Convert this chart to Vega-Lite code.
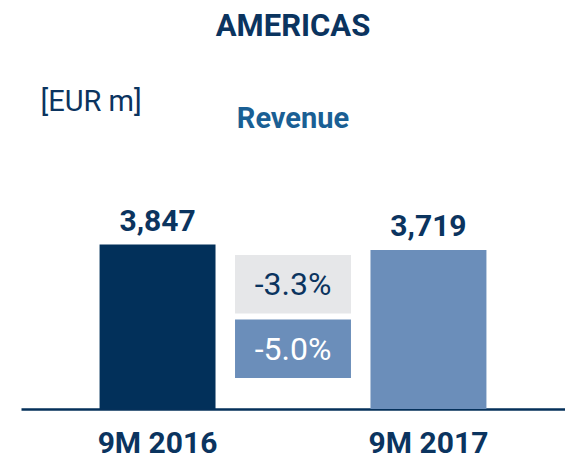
{
  "$schema": "https://vega.github.io/schema/vega-lite/v6.json",
  "autosize": {"type": "none"},
  "width": 544,
  "height": 171,
  "padding": {"left": 21, "top": 238, "right": 0, "bottom": 50},
  "background": "white",
  "config": {
    "font": "Roboto",
    "view": {"stroke": null}
  },
  "title": {
    "text": "AMERICAS",
    "subtitle": "Revenue",
    "anchor": "middle",
    "font": "Roboto",
    "fontSize": 31,
    "fontWeight": "bold",
    "color": "#0b345f",
    "subtitleFont": "Roboto",
    "subtitleFontSize": 29,
    "subtitleFontWeight": "bold",
    "subtitleColor": "#1a5f94",
    "subtitlePadding": 62,
    "offset": -48
  },
  "layer": [
    {
      "data": {
        "values": [
          {"period": "9M 2016", "revenue": 3847},
          {"period": "9M 2017", "revenue": 3719}
        ]
      },
      "encoding": {
        "x": {
          "field": "period",
          "type": "nominal",
          "scale": {"domain": ["9M 2016", "Δ", "9M 2017"], "paddingInner": 0.144, "paddingOuter": 0.58, "align": 0.5},
          "axis": {
            "title": null,
            "labelExpr": "datum.value == 'Δ' ? '' : datum.value",
            "labelAngle": 0,
            "labelFont": "Roboto",
            "labelFontSize": 30,
            "labelFontWeight": "bold",
            "labelColor": "#0b345f",
            "labelBaseline": "alphabetic",
            "labelPadding": 43,
            "ticks": false,
            "tickSize": 0,
            "domainColor": "#05305a",
            "domainWidth": 2.5,
            "grid": false
          }
        },
        "y": {
          "field": "revenue",
          "type": "quantitative",
          "scale": {"domain": [0, 4000], "nice": false},
          "axis": {
            "title": "[EUR m]",
            "titleAngle": 0,
            "titleAlign": "left",
            "titleBaseline": "alphabetic",
            "titleX": 19,
            "titleY": -128,
            "titleFont": "Roboto",
            "titleFontSize": 29,
            "titleFontWeight": "normal",
            "titleColor": "#0b345f",
            "labels": false,
            "ticks": false,
            "domain": false,
            "grid": false
          }
        }
      },
      "layer": [
        {
          "mark": {"type": "bar"},
          "encoding": {
            "color": {
              "field": "period",
              "type": "nominal",
              "scale": {"domain": ["9M 2016", "9M 2017"], "range": ["#02305a", "#6b8eba"]},
              "legend": null
            }
          }
        },
        {
          "mark": {"type": "text", "baseline": "alphabetic", "dy": -14, "fontSize": 30, "fontWeight": "bold", "color": "#0b345f", "font": "Roboto"},
          "encoding": {
            "text": {"field": "revenue", "type": "quantitative", "format": ",d"}
          }
        }
      ]
    },
    {
      "data": {
        "values": [
          {"basis": "reported", "change": "-3.3%"},
          {"basis": "currency-adjusted", "change": "-5.0%"}
        ]
      },
      "encoding": {
        "x": {"datum": "Δ", "type": "nominal"},
        "y": {
          "field": "basis",
          "type": "nominal",
          "scale": {"domain": ["reported", "currency-adjusted"], "range": [17, 140], "paddingInner": 0.093, "paddingOuter": 0},
          "axis": null
        }
      },
      "layer": [
        {
          "mark": {"type": "bar"},
          "encoding": {
            "color": {
              "field": "basis",
              "type": "nominal",
              "scale": {"domain": ["reported", "currency-adjusted"], "range": ["#e6e7e9", "#6b8eba"]},
              "legend": null
            }
          }
        },
        {
          "mark": {"type": "text", "baseline": "middle", "fontSize": 32, "font": "Roboto", "dy": 1},
          "encoding": {
            "y": {"field": "basis", "type": "nominal", "bandPosition": 0.5},
            "text": {"field": "change", "type": "nominal"},
            "color": {
              "field": "basis",
              "type": "nominal",
              "scale": {"domain": ["reported", "currency-adjusted"], "range": ["#0b345f", "#ffffff"]},
              "legend": null
            }
          }
        }
      ],
      "resolve": {"scale": {"color": "independent"}}
    }
  ],
  "resolve": {"scale": {"y": "independent", "color": "independent"}}
}
